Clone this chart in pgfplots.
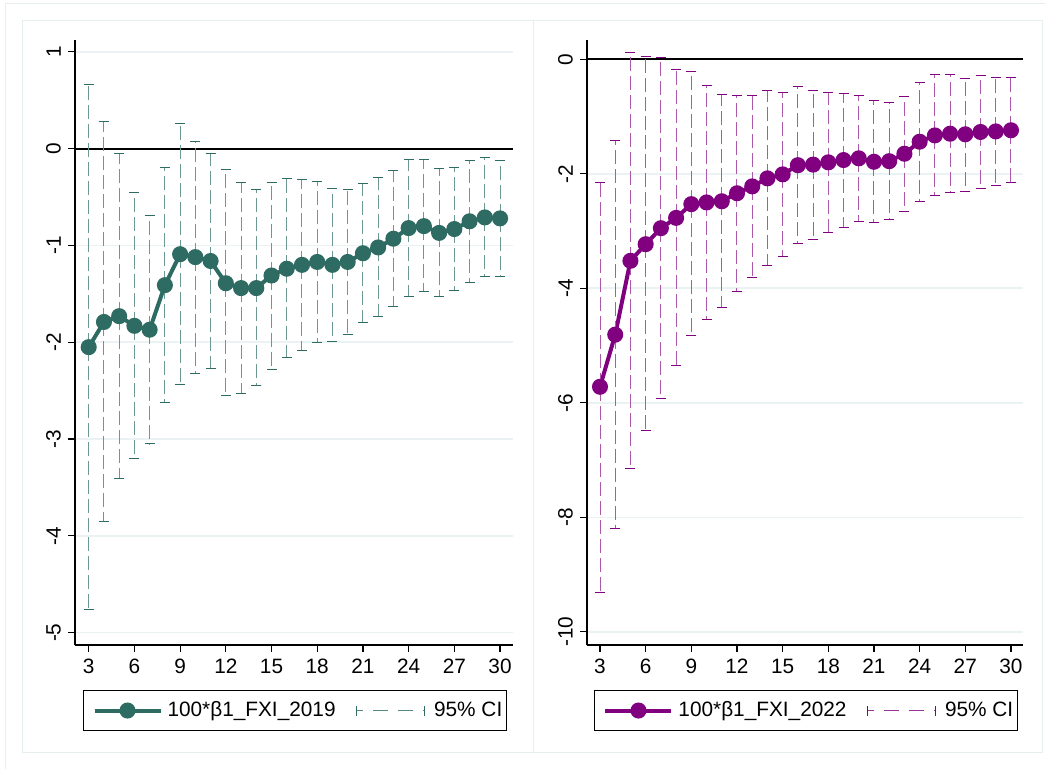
\documentclass[border=0pt]{standalone}
\usepackage{fontspec}
\setmainfont{Liberation Sans}
\usepackage{pgfplots}
\pgfplotsset{compat=1.18}
\usepackage{pgfplotstable}
\definecolor{tealc}{RGB}{46,107,98}
\definecolor{purp}{RGB}{128,0,128}
\definecolor{gridc}{RGB}{234,242,243}
\definecolor{framec}{RGB}{230,238,239}

\pgfplotstableread{
x b lo hi
3 -2.05 -4.76 0.66
4 -1.79 -3.85 0.28
5 -1.73 -3.41 -0.05
6 -1.83 -3.20 -0.45
7 -1.87 -3.05 -0.69
8 -1.41 -2.62 -0.19
9 -1.09 -2.44 0.26
10 -1.12 -2.32 0.07
11 -1.16 -2.27 -0.05
12 -1.39 -2.55 -0.22
13 -1.44 -2.53 -0.35
14 -1.44 -2.45 -0.42
15 -1.31 -2.28 -0.35
16 -1.24 -2.16 -0.31
17 -1.20 -2.08 -0.32
18 -1.17 -2.00 -0.34
19 -1.20 -1.99 -0.41
20 -1.17 -1.92 -0.42
21 -1.08 -1.80 -0.36
22 -1.02 -1.73 -0.30
23 -0.93 -1.63 -0.23
24 -0.82 -1.53 -0.11
25 -0.80 -1.48 -0.11
26 -0.87 -1.53 -0.20
27 -0.83 -1.47 -0.19
28 -0.75 -1.38 -0.12
29 -0.71 -1.32 -0.09
30 -0.72 -1.32 -0.12
}\tabA

\pgfplotstableread{
x b lo hi
3 -5.72 -9.32 -2.15
4 -4.81 -8.20 -1.42
5 -3.52 -7.15 0.11
6 -3.23 -6.49 0.04
7 -2.95 -5.93 0.03
8 -2.77 -5.35 -0.18
9 -2.53 -4.82 -0.22
10 -2.50 -4.55 -0.45
11 -2.48 -4.33 -0.62
12 -2.34 -4.05 -0.63
13 -2.22 -3.81 -0.64
14 -2.08 -3.61 -0.55
15 -2.01 -3.45 -0.58
16 -1.85 -3.22 -0.48
17 -1.84 -3.14 -0.55
18 -1.80 -3.02 -0.58
19 -1.76 -2.93 -0.60
20 -1.73 -2.84 -0.63
21 -1.79 -2.85 -0.72
22 -1.78 -2.79 -0.75
23 -1.65 -2.66 -0.65
24 -1.44 -2.48 -0.41
25 -1.33 -2.38 -0.27
26 -1.30 -2.32 -0.27
27 -1.31 -2.31 -0.33
28 -1.27 -2.25 -0.29
29 -1.26 -2.20 -0.32
30 -1.24 -2.16 -0.32
}\tabB

\pgfplotsset{
  stata/.style={
    scale only axis,
    height=302.5pt,
    axis x line*=bottom, axis y line*=left,
    axis line style={line width=0.6pt, black},
    tick align=outside,
    major tick length=3.5pt,
    tick style={line width=0.6pt, black},
    xtick={3,6,...,30},
    /pgf/number format/assume math mode=true,
    ymajorgrids, grid style={line width=0.8pt, gridc},
    yticklabel style={rotate=90, anchor=south},
    tick label style={font=\fontsize{10.4}{12}\selectfont},
    legend columns=2,
    legend cell align=left,
    legend style={anchor=north west, draw=black, line width=0.5pt,
      inner xsep=0pt, inner ysep=3.5pt,
      nodes={inner xsep=2pt},
      font=\fontsize{10.4}{12}\selectfont,
      /tikz/every odd column/.style={column sep=0.5pt},
      /tikz/every even column/.style={column sep=8pt}},
  }
}

\begin{document}
\begin{tikzpicture}
\path[use as bounding box, fill=white] (0pt,0pt) rectangle (522.5pt,384.5pt);
\draw[framec, line width=0.5pt] (2.5pt,-5pt) rectangle (530pt,382.5pt);
\draw[framec, line width=0.5pt] (11pt,8pt) rectangle (266.5pt,374pt);
\draw[framec, line width=0.5pt] (266.5pt,8pt) rectangle (521pt,374pt);

% ---------- left panel ----------
\begin{axis}[stata,
  at={(37.5pt,62pt)}, anchor=south west,
  width=219pt,
  xmin=2.1, xmax=30.85,
  ymin=-5.127, ymax=1.123,
  ytick={-5,-4,-3,-2,-1,0,1},
  yticklabels={-5,-4,-3,-2,-1,0,1},
  legend style={at={(0.0183,-0.0744)}},
]
\draw[black, line width=0.9pt] (axis cs:2.1,0) -- (axis cs:30.85,0);
\addplot[tealc, line width=2pt, mark=*, mark size=3pt,
  mark options={fill=tealc, draw=tealc},
  legend image code/.code={
    \path (0pt,0pt);
    \draw[line width=2pt, tealc] (4.5pt,0pt) -- (37.5pt,0pt);
    \fill[tealc] (21pt,0pt) circle (3pt);
  }]
  table[x=x, y=b] {\tabA};
\addlegendentry{100*β1\_FXI\_2019}
\addplot[draw=none, mark=none,
  legend image code/.code={
    \draw[line width=0.5pt, tealc!80, dash pattern=on 3.5pt off 5pt on 7.5pt off 5pt on 7.5pt off 5pt] (0pt,0pt) -- (34pt,0pt);
    \draw[line width=0.5pt, tealc, solid] (0pt,-2.5pt) -- (0pt,2.5pt) (34pt,-2.5pt) -- (34pt,2.5pt);
    \path (36.5pt,0pt);
  },
  error bars/.cd, y dir=both, y explicit,
  error bar style={draw=tealc!70, line width=0.5pt, dash pattern=on 7pt off 2.5pt},
  error mark options={rotate=90, draw=tealc, solid, mark size=2.5pt, line width=0.5pt}]
  table[x=x, y=b, y error plus expr=\thisrow{hi}-\thisrow{b}, y error minus expr=\thisrow{b}-\thisrow{lo}] {\tabA};
\addlegendentry{95\% CI}
\end{axis}

% ---------- right panel ----------
\begin{axis}[stata,
  at={(293.5pt,62pt)}, anchor=south west,
  width=218pt,
  xmin=2.146, xmax=30.79,
  ymin=-10.23, ymax=0.337,
  ytick={-10,-8,-6,-4,-2,0},
  yticklabels={-10,-8,-6,-4,-2,0},
  legend style={at={(0.016,-0.0744)}},
]
\draw[black, line width=0.9pt] (axis cs:2.146,0) -- (axis cs:30.79,0);
\addplot[purp, line width=2pt, mark=*, mark size=3pt,
  mark options={fill=purp, draw=purp},
  legend image code/.code={
    \path (0pt,0pt);
    \draw[line width=2pt, purp] (4.5pt,0pt) -- (37.5pt,0pt);
    \fill[purp] (21pt,0pt) circle (3pt);
  }]
  table[x=x, y=b] {\tabB};
\addlegendentry{100*β1\_FXI\_2022}
\addplot[draw=none, mark=none,
  legend image code/.code={
    \draw[line width=0.5pt, purp!80, dash pattern=on 3.5pt off 5pt on 7.5pt off 5pt on 7.5pt off 5pt] (0pt,0pt) -- (34pt,0pt);
    \draw[line width=0.5pt, purp, solid] (0pt,-2.5pt) -- (0pt,2.5pt) (34pt,-2.5pt) -- (34pt,2.5pt);
    \path (36.5pt,0pt);
  },
  error bars/.cd, y dir=both, y explicit,
  error bar style={draw=purp!65, line width=0.5pt, dash pattern=on 7pt off 2.5pt},
  error mark options={rotate=90, draw=purp, solid, mark size=2.5pt, line width=0.5pt}]
  table[x=x, y=b, y error plus expr=\thisrow{hi}-\thisrow{b}, y error minus expr=\thisrow{b}-\thisrow{lo}] {\tabB};
\addlegendentry{95\% CI}
\end{axis}
\end{tikzpicture}
\end{document}
